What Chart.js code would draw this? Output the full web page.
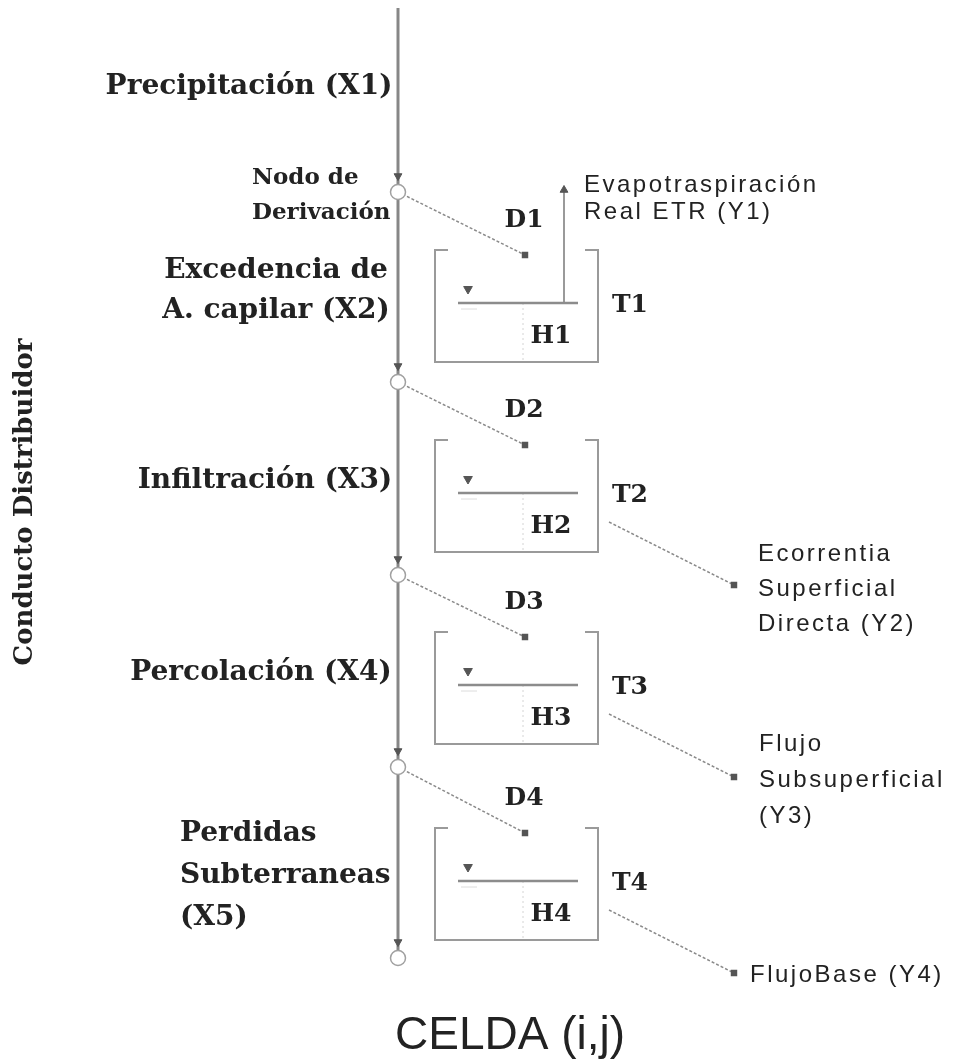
<!DOCTYPE html>
<html>
<head>
<meta charset="utf-8">
<script src="https://cdn.jsdelivr.net/npm/chart.js@4"></script>
<style>
  html, body { margin: 0; padding: 0; background: #fff; }
  #wrap { width: 954px; height: 1061px; position: relative; }
</style>
</head>
<body>
<div id="wrap"><canvas id="diagram"></canvas></div>
<script>
// --- diagram contents ---
const inputLabels = [
    ['Precipitación (X1)'],
    ['Excedencia de', 'A. capilar (X2)'],
    ['Infiltración (X3)'],
    ['Percolación (X4)'],
    ['Perdidas', 'Subterraneas', '(X5)']
];
const nodeLabel = ['Nodo de', 'Derivación'];
const derivLabels = ['D1', 'D2', 'D3', 'D4'];
const tankLabels = ['T1', 'T2', 'T3', 'T4'];
const storeLabels = ['H1', 'H2', 'H3', 'H4'];
const outputLabels = [
    ['Evapotraspiración', 'Real ETR (Y1)'],
    ['Ecorrentia', 'Superficial', 'Directa (Y2)'],
    ['Flujo', 'Subsuperficial', '(Y3)'],
    ['FlujoBase (Y4)']
];
const sideTitle = 'Conducto Distribuidor';
const cellTitle = 'CELDA (i,j)';

// levels down the conduit (diagram units, y grows downward)
const nodeLevels = [192, 382, 575, 767, 958];
const tankTops = [250, 440, 632, 828];

// --- layout ---
const conduitX = 398;
const tankLeft = 435, tankRight = 598, tankHeight = 112, waterDepth = 53;
const inputAnchors = [
    { x: 249, y: 87, align: 'center', gap: 0 },
    { x: 276, y: 271, align: 'center', gap: 40 },
    { x: 265, y: 481, align: 'center', gap: 0 },
    { x: 261, y: 673, align: 'center', gap: 0 },
    { x: 180, y: 834, align: 'left', gap: 42 }
];
const outputAnchors = [
    { x: 584, y: 185, gap: 27 },
    { x: 758, y: 554, gap: 35 },
    { x: 759, y: 744, gap: 36 },
    { x: 750, y: 975, gap: 0 }
];

const lineGrey = '#8a8a8a';
const darkGrey = '#555';
const ink = '#222';
const serif = '"DejaVu Serif", "Liberation Serif", serif';
const sans = '"Liberation Sans", Arial, sans-serif';

function seg(points, extra) {
    return Object.assign({
        data: points,
        showLine: true,
        borderColor: lineGrey,
        borderWidth: 2,
        pointRadius: 0,
        tension: 0,
        order: 5
    }, extra || {});
}

const datasets = [];

// conduit with derivation nodes
datasets.push({
    data: nodeLevels.map(v => ({ x: conduitX, y: v })),
    pointStyle: 'circle', pointRadius: 7.5,
    backgroundColor: '#fff', borderColor: '#a0a0a0', borderWidth: 1.5,
    showLine: false, order: 0
});
datasets.push({
    data: nodeLevels.map(v => ({ x: conduitX, y: v - 16 })),
    pointStyle: 'triangle', rotation: 180, pointRadius: 4.5,
    backgroundColor: darkGrey, borderColor: darkGrey, borderWidth: 1,
    showLine: false, order: 1
});
datasets.push(seg([{ x: conduitX, y: 8 }, { x: conduitX, y: nodeLevels[4] - 8 }], { borderWidth: 3, borderColor: '#878787', order: 6 }));

tankTops.forEach((top, i) => {
    const bottom = top + tankHeight;
    const water = top + waterDepth;
    // tank walls
    datasets.push(seg([
        { x: tankLeft + 13, y: top }, { x: tankLeft, y: top }, { x: tankLeft, y: bottom },
        { x: tankRight, y: bottom }, { x: tankRight, y: top }, { x: tankRight - 13, y: top }
    ], { borderColor: '#9a9a9a', borderWidth: 2 }));
    // water level and divider
    datasets.push(seg([{ x: 458, y: water }, { x: 578, y: water }], { borderColor: '#8c8c8c', borderWidth: 2.5 }));
    datasets.push(seg([{ x: 523, y: water }, { x: 523, y: bottom }], { borderColor: '#d4d4d4', borderWidth: 1, borderDash: [2, 3] }));
    datasets.push(seg([{ x: 461, y: water + 6 }, { x: 477, y: water + 6 }], { borderColor: '#dcdcdc', borderWidth: 1 }));
    datasets.push({
        data: [{ x: 468, y: water - 14 }],
        pointStyle: 'triangle', rotation: 180, pointRadius: 5,
        backgroundColor: darkGrey, borderColor: darkGrey, showLine: false, order: 1
    });
    // derivation from node into tank
    datasets.push(seg([{ x: conduitX, y: nodeLevels[i] }, { x: 525, y: top + 5 }], {
        borderColor: '#8a8a8a', borderWidth: 1.5, borderDash: [3, 2],
        pointRadius: [0, 3.5], pointStyle: 'rect', pointBackgroundColor: darkGrey, pointBorderColor: darkGrey
    }));
    if (i === 0) {
        // evapotranspiration leaves upward
        datasets.push(seg([{ x: 564, y: water }, { x: 564, y: 192 }], { borderColor: '#9a9a9a', borderWidth: 2 }));
        datasets.push({
            data: [{ x: 564, y: 190 }],
            pointStyle: 'triangle', pointRadius: 4.5,
            backgroundColor: darkGrey, borderColor: darkGrey, showLine: false, order: 1
        });
    } else {
        datasets.push(seg([{ x: 609, y: top + 82 }, { x: 734, y: top + 145 }], {
            borderColor: '#8a8a8a', borderWidth: 1.5, borderDash: [3, 2],
            pointRadius: [0, 3.5], pointStyle: 'rect', pointBackgroundColor: darkGrey, pointBorderColor: darkGrey
        }));
    }
});

const textPlugin = {
    id: 'diagramText',
    afterDatasetsDraw(chart) {
        const { ctx, scales: { x, y } } = chart;
        function put(text, px, py, font, align, spacing) {
            ctx.save();
            ctx.font = font;
            ctx.fillStyle = ink;
            ctx.textAlign = align;
            ctx.textBaseline = 'middle';
            ctx.letterSpacing = (spacing || 0) + 'px';
            ctx.fillText(text, x.getPixelForValue(px), y.getPixelForValue(py));
            ctx.restore();
        }

        inputLabels.forEach((lines, i) => {
            const a = inputAnchors[i];
            lines.forEach((t, k) => put(t, a.x, a.y + k * a.gap, 'bold 28px ' + serif, a.align, 0));
        });
        nodeLabel.forEach((t, k) => put(t, 252, 178 + k * 35, 'bold 23px ' + serif, 'left', 0));

        tankTops.forEach((top, i) => {
            put(derivLabels[i], 524, top - 30, 'bold 25px ' + serif, 'center', 0);
            put(tankLabels[i], 612, top + 55, 'bold 25px ' + serif, 'left', 0);
            put(storeLabels[i], 551, top + 86, 'bold 25px ' + serif, 'center', 0);
        });

        outputLabels.forEach((lines, i) => {
            const a = outputAnchors[i];
            lines.forEach((t, k) => put(t, a.x, a.y + k * a.gap, '24px ' + sans, 'left', 2.5));
        });

        put(cellTitle, 510, 1036, '46px ' + sans, 'center', 0);

        ctx.save();
        ctx.translate(x.getPixelForValue(25), y.getPixelForValue(502));
        ctx.rotate(-Math.PI / 2);
        ctx.font = 'bold 26px ' + serif;
        ctx.fillStyle = ink;
        ctx.textAlign = 'center';
        ctx.textBaseline = 'middle';
        ctx.fillText(sideTitle, 0, 0);
        ctx.restore();
    }
};

new Chart(document.getElementById('diagram'), {
    type: 'scatter',
    data: { datasets: datasets },
    options: {
        responsive: true,
        maintainAspectRatio: false,
        animation: false,
        events: [],
        layout: { padding: 0, autoPadding: false },
        plugins: {
            legend: { display: false },
            tooltip: { enabled: false }
        },
        scales: {
            x: { type: 'linear', min: 0, max: 954, display: false },
            y: { type: 'linear', min: 0, max: 1061, reverse: true, display: false }
        }
    },
    plugins: [textPlugin]
});
</script>
</body>
</html>
